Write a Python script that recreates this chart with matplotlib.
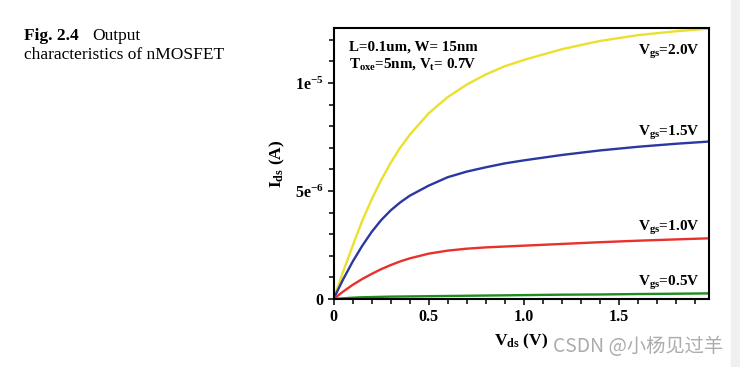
import numpy as np
import matplotlib
matplotlib.use( 'Agg' )
import matplotlib.pyplot as plt
from matplotlib.ticker import MultipleLocator, FixedLocator, FixedFormatter


# drain voltage (V) and drain current (uA)
vds = [ 0, 0.05, 0.1, 0.15, 0.2, 0.25, 0.3, 0.35, 0.4, 0.5, 0.6, 0.7, 0.8,
		0.9, 1.0, 1.2, 1.4, 1.6, 1.8, 1.97 ]

ids_20 = [ 0, 1.25, 2.45, 3.6, 4.6, 5.5, 6.3, 7.0, 7.6, 8.6, 9.35, 9.93, 10.4,
		10.78, 11.07, 11.57, 11.95, 12.22, 12.4, 12.52 ]
ids_15 = [ 0, 0.9, 1.72, 2.45, 3.1, 3.65, 4.1, 4.47, 4.78, 5.25, 5.64, 5.9, 6.1,
		6.28, 6.42, 6.67, 6.88, 7.05, 7.19, 7.29 ]
ids_10 = [ 0, 0.34, 0.65, 0.92, 1.16, 1.38, 1.57, 1.74, 1.88, 2.1, 2.24, 2.33, 2.39,
		2.43, 2.47, 2.55, 2.63, 2.70, 2.76, 2.81 ]
ids_05 = [ 0, 0.03, 0.06, 0.08, 0.09, 0.1, 0.11, 0.115, 0.12, 0.13, 0.14, 0.15, 0.16,
		0.17, 0.18, 0.2, 0.21, 0.23, 0.245, 0.26 ]

curves = [ ids_20, ids_15, ids_10, ids_05 ]
colors = [ '#ebe02e', '#2b37a3', '#e8302c', '#1e8c1e' ]
labels = [ r'V$_{\mathrm{gs}}$=2.0V', r'V$_{\mathrm{gs}}$=1.5V',
		r'V$_{\mathrm{gs}}$=1.0V', r'V$_{\mathrm{gs}}$=0.5V' ]
label_y = [ 11.46, 7.71, 3.29, 0.74 ]

yticks = [ 0, 5e-6, 1e-5 ]
yticklabels = [ '0', r'5e$^{\mathrm{-6}}$', r'1e$^{\mathrm{-5}}$' ]


plt.rcParams[ 'font.family' ] = [ 'Liberation Serif', 'DejaVu Serif' ]
plt.rcParams[ 'font.weight' ] = 'bold'
plt.rcParams[ 'mathtext.fontset' ] = 'custom'
plt.rcParams[ 'mathtext.rm' ] = 'Liberation Serif:bold'
plt.rcParams[ 'mathtext.bf' ] = 'Liberation Serif:bold'
plt.rcParams[ 'mathtext.it' ] = 'Liberation Serif:bold:italic'

fig = plt.figure( figsize = ( 7.4, 3.67 ), dpi = 100 )
ax = fig.add_axes( [ 333.5 / 740, 1 - 299 / 367, 375 / 740, 271 / 367 ] )

for ids, c in zip( curves, colors ) :
	ax.plot( vds, np.array( ids ) * 1e-6, color = c, lw = 1.7,
			solid_capstyle = 'round', solid_joinstyle = 'round' )

for lab, ly in zip( labels, label_y ) :
	ax.text( 1.925, ly * 1e-6, lab, ha = 'right', va = 'center',
			fontsize = 11, fontweight = 'bold' )

ax.text( 0.042, 0.931, 'L=0.1um, W= 15nm', transform = ax.transAxes,
		ha = 'left', va = 'center', fontsize = 10.8, fontweight = 'bold' )
ax.text( 0.042, 0.868, r'T$_{\mathrm{oxe}}$=5nm, V$_{\mathrm{t}}$= 0.7V',
		transform = ax.transAxes, ha = 'left', va = 'center',
		fontsize = 10.8, fontweight = 'bold' )

ax.set_xlim( 0, 1.97 )
ax.set_ylim( 0, 1.255e-5 )

ax.xaxis.set_minor_locator( MultipleLocator( 0.1 ) )
ax.set_xticks( [ 0, 0.5, 1.0, 1.5 ] )
ax.set_xticklabels( [ '0', '0.5', '1.0', '1.5' ] )
ax.yaxis.set_major_locator( FixedLocator( yticks ) )
ax.yaxis.set_major_formatter( FixedFormatter( yticklabels ) )
ax.yaxis.set_minor_locator( MultipleLocator( 1e-6 ) )

ax.tick_params( which = 'both', direction = 'out', width = 1.1,
				labelsize = 11.5, pad = 3 )
ax.tick_params( which = 'major', length = 4 )
ax.tick_params( which = 'minor', length = 3.5 )
for lab in ax.get_xticklabels() + ax.get_yticklabels() :
	lab.set_fontweight( 'bold' )

for sp in ax.spines.values() :
	sp.set_linewidth( 1.5 )

ax.set_xlabel( r'V$_{\mathrm{ds}}$ (V)', fontsize = 12.5,
			fontweight = 'bold', labelpad = 5 )
ax.set_ylabel( r'I$_{\mathrm{ds}}$ (A)', fontsize = 12.5,
			fontweight = 'bold', labelpad = 6 )

# caption
fig.text( 24 / 740, 1 - 40 / 367, 'Fig. 2.4', fontsize = 12.5,
		fontweight = 'bold', va = 'baseline' )
fig.text( 92.7 / 740, 1 - 40 / 367, 'Output', fontsize = 12.5,
		fontweight = 'normal', va = 'baseline' )
fig.text( 24 / 740, 1 - 59 / 367, 'characteristics of nMOSFET',
		fontsize = 12.5, fontweight = 'normal', va = 'baseline' )

# grey strip on the right edge and the watermark
fig.patches.append( plt.Rectangle( ( 731 / 740, 0 ), 9 / 740, 1,
		transform = fig.transFigure, color = '#f0f0f0', zorder = 0 ) )
fig.text( 553 / 740, 1 - 347 / 367, 'CSDN @小杨见过羊',
		family = [ 'Noto Sans CJK SC', 'DejaVu Sans' ], fontweight = 'normal',
		fontsize = 13.9, color = '#acacac', va = 'center', ha = 'left' )

fig.savefig( 'out.png', dpi = 100 )
